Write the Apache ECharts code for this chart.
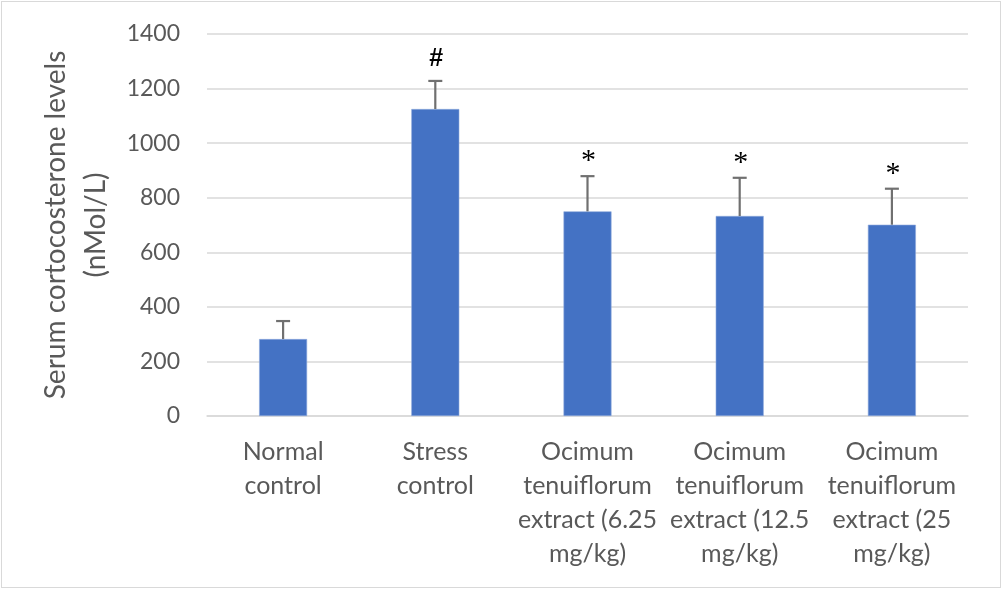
<!DOCTYPE html>
<html lang="en">
<head>
  <meta charset="UTF-8">
  <title>Serum corticosterone levels</title>
  <style>
    html, body { margin: 0; padding: 0; background: #fff; }
    #frame {
      position: absolute; left: 1px; top: 1px;
      width: 998px; height: 585px;
      border: 1px solid #d9d9d9;
    }
    #chart { position: absolute; left: 0; top: 0; width: 1004px; height: 592px; }
  </style>
</head>
<body>
  <div id="frame"></div>
  <div id="chart"></div>

  <script src="https://cdn.jsdelivr.net/npm/echarts@6/dist/echarts.min.js"></script>
  <script>
    // values
    const categories = [
      'Normal\ncontrol',
      'Stress\ncontrol',
      'Ocimum\ntenuiflorum\nextract (6.25\nmg/kg)',
      'Ocimum\ntenuiflorum\nextract (12.5\nmg/kg)',
      'Ocimum\ntenuiflorum\nextract (25\nmg/kg)'
    ];
    const means = [282, 1125, 750, 733, 701];
    const errors = [66, 103, 129, 140, 132];
    const marks = ['', '#', '*', '*', '*'];
    const yTicks = [0, 200, 400, 600, 800, 1000, 1200, 1400];

    const textFont = 'Lato';
    const chart = echarts.init(document.getElementById('chart'));

    const option = {
      animation: false,
      grid: { left: 207, right: 36, top: 34, bottom: 176 },
      xAxis: {
        type: 'category',
        data: categories,
        axisLine: { lineStyle: { color: '#d9d9d9', width: 1.5 } },
        axisTick: { show: false },
        axisLabel: {
          interval: 0,
          color: '#595959',
          fontFamily: textFont,
          fontSize: 25,
          lineHeight: 34,
          margin: 19
        }
      },
      yAxis: {
        type: 'value',
        min: yTicks[0],
        max: yTicks[yTicks.length - 1],
        interval: 200,
        name: 'Serum cortocosterone levels\n(nMol/L)',
        nameLocation: 'middle',
        nameGap: 77,
        nameTextStyle: {
          color: '#595959',
          fontFamily: textFont,
          fontSize: 28,
          lineHeight: 40
        },
        axisLine: { show: false },
        axisTick: { show: false },
        splitLine: { lineStyle: { color: '#d9d9d9', width: 1.5 } },
        axisLabel: {
          color: '#595959',
          fontFamily: textFont,
          fontSize: 23,
          margin: 27,
          formatter: v => String(v)
        }
      },
      series: [
        {
          type: 'bar',
          data: means,
          barWidth: 48,
          itemStyle: { color: '#4472c4', borderColor: '#8faadc', borderWidth: 0.6 }
        },
        {
          type: 'custom',
          data: means.map((m, i) => [i, m, errors[i]]),
          z: 5,
          renderItem: function (params, api) {
            const i = api.value(0);
            const base = api.coord([i, api.value(1)]);
            const top = api.coord([i, api.value(1) + api.value(2)]);
            const cap = 7;
            const style = { stroke: '#707070', lineWidth: 2.2 };
            const children = [
              { type: 'line', shape: { x1: base[0], y1: base[1], x2: top[0], y2: top[1] }, style: style },
              { type: 'line', shape: { x1: top[0] - cap, y1: top[1], x2: top[0] + cap, y2: top[1] }, style: style }
            ];
            const mark = marks[i];
            if (mark) {
              const isHash = mark === '#';
              children.push({
                type: 'text',
                style: {
                  text: mark,
                  x: top[0] + 1,
                  y: top[1] - (isHash ? 22 : 15),
                  align: 'center',
                  verticalAlign: 'middle',
                  fill: '#000',
                  font: isHash ? 'bold 25px "Liberation Sans"' : '30px "Liberation Serif"'
                }
              });
            }
            return { type: 'group', children: children };
          }
        }
      ]
    };

    chart.setOption(option);
  </script>
</body>
</html>
